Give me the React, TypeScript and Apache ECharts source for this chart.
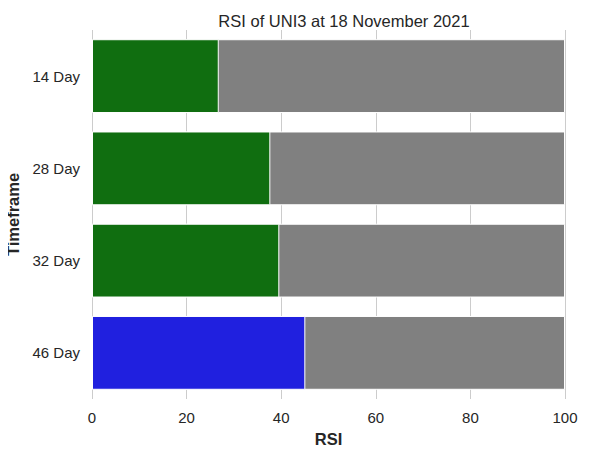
import React, { useEffect, useRef } from 'react';
import * as echarts from 'echarts';

const categories = ['14 Day', '28 Day', '32 Day', '46 Day'];
const rsiValues = [26.8, 37.7, 39.6, 45.1];
const fullValues = [100, 100, 100, 100];
const xTicks = [0, 20, 40, 60, 80, 100];

const FONT = '"Liberation Sans", Arial, sans-serif';
const TEXT = '#262626';

const App: React.FC = () => {
  const chartRef: any = useRef(null);

  useEffect(() => {
    const chart = echarts.init(chartRef.current, null, { renderer: 'svg' });
    const option = {
      animation: false,
      backgroundColor: '#ffffff',
      textStyle: { fontFamily: FONT },
      title: {
        text: 'RSI of UNI3 at 18 November 2021',
        left: 339,
        textAlign: 'center',
        top: 7,
        textStyle: { fontSize: 16.5, fontWeight: 'normal', color: TEXT, fontFamily: FONT },
      },
      grid: { left: 92, right: 33, top: 30, bottom: 58, outerBoundsMode: 'none', containLabel: false },
      xAxis: {
        type: 'value',
        min: xTicks[0],
        max: xTicks[xTicks.length - 1],
        interval: 20,
        name: 'RSI',
        nameLocation: 'middle',
        nameGap: 31,
        nameTextStyle: { fontSize: 16.5, fontWeight: 'bold', color: TEXT, fontFamily: FONT },
        axisLine: { show: false },
        axisTick: { show: false },
        axisLabel: { fontSize: 15, color: TEXT, margin: 11, fontFamily: FONT },
        splitLine: { show: true, lineStyle: { color: '#cccccc', width: 1 } },
      },
      yAxis: {
        type: 'category',
        data: categories,
        inverse: true,
        name: 'Timeframe',
        nameLocation: 'middle',
        nameGap: 67,
        nameRotate: 90,
        nameTextStyle: { fontSize: 16.5, fontWeight: 'bold', color: TEXT, fontFamily: FONT },
        axisLine: { show: false },
        axisTick: { show: false },
        splitLine: { show: false },
        axisLabel: { fontSize: 15, color: TEXT, margin: 12, fontFamily: FONT },
      },
      series: [
        {
          type: 'bar',
          data: fullValues,
          barCategoryGap: '20%',
          barGap: '-100%',
          itemStyle: { color: '#808080', borderColor: '#ffffff', borderWidth: 1 },
          z: 2,
        },
        {
          type: 'bar',
          data: rsiValues,
          barCategoryGap: '20%',
          barGap: '-100%',
          itemStyle: {
            color: (p: any) => (p.dataIndex === categories.length - 1 ? '#2020df' : '#106e10'),
            borderColor: '#ffffff',
            borderWidth: 1,
          },
          z: 3,
        },
      ],
    };
    chart.setOption(option);
    return () => {
      chart.dispose();
    };
  }, []);

  return <div ref={chartRef} style={{ width: 598, height: 457, margin: -8 }}></div>;
};

export default App;
